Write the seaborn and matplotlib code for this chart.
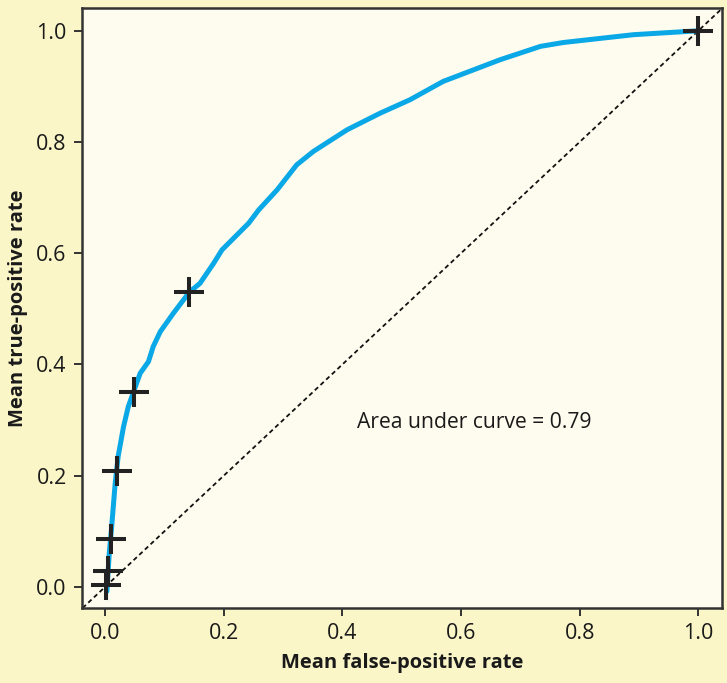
import numpy as np
import pandas as pd
import matplotlib.pyplot as plt
import seaborn as sns

# ROC curve
fpr = [0.003, 0.003, 0.007, 0.011, 0.017, 0.022, 0.031, 0.039, 0.048, 0.059,
       0.073, 0.081, 0.093, 0.115, 0.142, 0.160, 0.183, 0.197, 0.242, 0.259,
       0.290, 0.323, 0.351, 0.408, 0.464, 0.514, 0.570, 0.666, 0.734, 0.773,
       0.891, 1.0]
tpr = [-0.023, 0.007, 0.061, 0.108, 0.187, 0.235, 0.288, 0.324, 0.351, 0.384,
       0.405, 0.432, 0.459, 0.492, 0.530, 0.546, 0.582, 0.606, 0.654, 0.678,
       0.714, 0.759, 0.783, 0.822, 0.852, 0.876, 0.909, 0.948, 0.972, 0.979,
       0.993, 1.0]

# threshold markers
mark_fpr = [0.002, 0.005, 0.010, 0.020, 0.048, 0.142, 1.0]
mark_tpr = [0.004, 0.028, 0.086, 0.209, 0.351, 0.530, 1.0]

auc_text = "Area under curve = 0.79"
ticks = [0.0, 0.2, 0.4, 0.6, 0.8, 1.0]

sns.set_style("ticks")
plt.rcParams["font.family"] = ["Open Sans", "DejaVu Sans"]

fig = plt.figure(figsize=(7.27, 6.83), dpi=100, facecolor="#faf6c8")
ax = fig.add_axes([0.1128, 0.1098, 0.8803, 0.8785])
ax.set_facecolor("#fefcee")

curve = pd.DataFrame({"fpr": fpr, "tpr": tpr})
marks = pd.DataFrame({"fpr": mark_fpr, "tpr": mark_tpr})

ax.axline((0, 0), slope=1, color="#111111", lw=1.3, ls=(0, (2.5, 1.8)), zorder=1)
sns.lineplot(data=curve, x="fpr", y="tpr", sort=False, color="#0aa8e6",
             lw=3.6, ax=ax, zorder=2)
sns.scatterplot(data=marks, x="fpr", y="tpr", marker="+", s=440,
                linewidth=2.9, color="#222222", ax=ax, zorder=3)

ax.text(0.425, 0.295, auc_text, fontsize=15.2, color="#1a1a1a", va="center")

ax.set_xlim(-0.039, 1.04)
ax.set_ylim(-0.038, 1.041)
ax.set_xticks(ticks)
ax.set_yticks(ticks)
ax.set_xticklabels([f"{t:.1f}" for t in ticks])
ax.set_yticklabels([f"{t:.1f}" for t in ticks])
ax.tick_params(length=6, width=1.4, color="#333333", labelsize=15.5,
               labelcolor="#1a1a1a", pad=5)
for s in ax.spines.values():
    s.set_color("#333333")
    s.set_linewidth(1.8)

ax.set_xlabel("Mean false-positive rate", fontsize=14.5, fontweight="bold",
              color="#1a1a1a", labelpad=6)
ax.set_ylabel("Mean true-positive rate", fontsize=14.5, fontweight="bold",
              color="#1a1a1a", labelpad=6)

fig.savefig("out.png", dpi=100, facecolor=fig.get_facecolor())
